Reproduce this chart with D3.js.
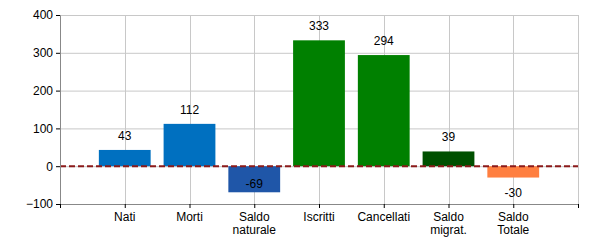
<!DOCTYPE html>
<html>
<head>
<meta charset="utf-8">
<script src="https://cdn.jsdelivr.net/npm/d3@7"></script>
<style>
  body { margin: 0; background: #fff; }
  svg { font-family: "Liberation Sans", Arial, sans-serif; }
</style>
</head>
<body>
<div id="chart"></div>
<script>
// data
var categories = [["Nati"], ["Morti"], ["Saldo", "naturale"], ["Iscritti"], ["Cancellati"], ["Saldo", "migrat."], ["Saldo", "Totale"]];
var values = [43, 112, -69, 333, 294, 39, -30];
var colors = ["#0070c0", "#0070c0", "#1f56a8", "#008000", "#008000", "#005000", "#ff7f40"];
var yTicks = [-100, 0, 100, 200, 300, 400];

var margin = {top: 15, right: 22, bottom: 46, left: 60},
    width = 600 - margin.left - margin.right,
    height = 250 - margin.top - margin.bottom;

var svg = d3.select("#chart").append("svg")
    .attr("width", 600)
    .attr("height", 250)
  .append("g")
    .attr("transform", "translate(" + margin.left + "," + margin.top + ")");

// x: slots 1..7 for the categories, 0 and 8 are the edges
var x = d3.scaleLinear().domain([0, categories.length + 1]).range([0, width]);
var y = d3.scaleLinear().domain([-100, 400]).range([height, 0]);
var slot = x(1) - x(0);
var barW = slot * 0.8;

// grid
svg.append("g").selectAll("line.h")
    .data(yTicks.filter(function(d) { return d > -100; }))
  .enter().append("line")
    .attr("x1", 0).attr("x2", width)
    .attr("y1", function(d) { return y(d) + 0.5; })
    .attr("y2", function(d) { return y(d) + 0.5; })
    .style("stroke", "#c8c8c8");
svg.append("g").selectAll("line.v")
    .data(d3.range(1, categories.length + 2))
  .enter().append("line")
    .attr("x1", function(d) { return Math.round(x(d)) + 0.5; })
    .attr("x2", function(d) { return Math.round(x(d)) + 0.5; })
    .attr("y1", 0).attr("y2", height)
    .style("stroke", "#c8c8c8");

// bars
svg.append("g").selectAll("rect")
    .data(values)
  .enter().append("rect")
    .attr("x", function(d, i) { return x(i + 1) - barW / 2; })
    .attr("y", function(d) { return y(Math.max(0, d)); })
    .attr("width", barW)
    .attr("height", function(d) { return Math.abs(y(d) - y(0)); })
    .style("fill", function(d, i) { return colors[i]; });

// zero line
svg.append("line")
    .attr("x1", 0).attr("x2", width)
    .attr("y1", y(0)).attr("y2", y(0))
    .style("stroke", "#8b1a1a")
    .style("stroke-width", 2)
    .style("stroke-dasharray", "6,3");

// value labels (negative ones go below the bar, or inside if no room)
svg.append("g").selectAll("text")
    .data(values)
  .enter().append("text")
    .text(function(d) { return d; })
    .attr("x", function(d, i) { return x(i + 1); })
    .attr("y", function(d) {
      if (d >= 0) return y(d) - 10;
      return y(d) + 19 > height - 4 ? y(d) - 4 : y(d) + 19;
    })
    .style("text-anchor", "middle")
    .style("font-size", "12px")
    .style("fill", "#000");

// axes
var yAxis = svg.append("g")
    .call(d3.axisLeft(y).tickValues(yTicks).tickSize(4).tickPadding(3));
var xAxis = svg.append("g")
    .attr("transform", "translate(0," + height + ")")
    .call(d3.axisBottom(x).tickValues(d3.range(0, categories.length + 2))
      .tickSize(4).tickFormat(""));

[yAxis, xAxis].forEach(function(a) {
  a.select(".domain").style("stroke", "#888");
  a.selectAll(".tick line").style("stroke", "#000");
  a.selectAll("text").style("font-size", "12px").style("fill", "#000")
    .style("font-family", "\"Liberation Sans\", Arial, sans-serif");
});

// category labels, one or two lines
var catG = svg.append("g").attr("transform", "translate(0," + height + ")");
categories.forEach(function(c, i) {
  var t = catG.append("text")
      .attr("x", x(i + 1))
      .attr("y", 17)
      .style("text-anchor", "middle")
      .style("font-size", "12px")
      .style("fill", "#000");
  c.forEach(function(line, j) {
    t.append("tspan").attr("x", x(i + 1)).attr("dy", j === 0 ? 0 : 13).text(line);
  });
});
</script>
</body>
</html>
